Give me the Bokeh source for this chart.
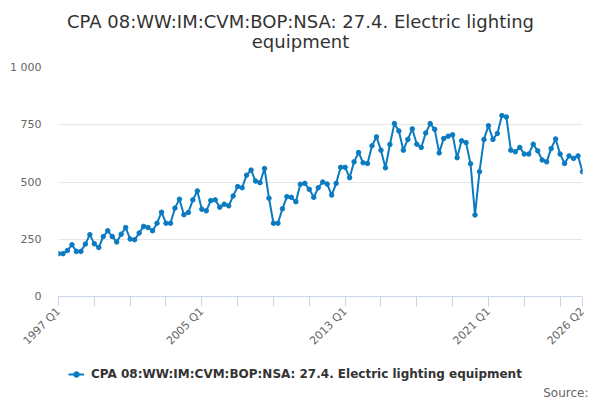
import math
from bokeh.plotting import figure
from bokeh.layouts import column
from bokeh.models import (Range1d, FixedTicker, Legend, LegendItem, ColumnDataSource, Label)
from bokeh.embed import file_html
from bokeh.resources import INLINE

title_lines = ["CPA 08:WW:IM:CVM:BOP:NSA: 27.4. Electric lighting", "equipment"]
series_name = "CPA 08:WW:IM:CVM:BOP:NSA: 27.4. Electric lighting equipment"
source_text = "Source:"

first_year = 1997
values = [
    187, 187, 201, 226,
    197, 197, 229, 270,
    230, 214, 262, 287,
    262, 238, 272, 301,
    251, 248, 277, 306,
    301, 287, 320, 368,
    320, 320, 386, 425,
    357, 367, 422, 461,
    381, 374, 419, 422,
    390, 403, 396, 439,
    480, 475, 530, 552,
    504, 497, 559, 429,
    320, 320, 383, 436,
    433, 414, 490, 494,
    468, 433, 475, 500,
    491, 443, 494, 564,
    564, 519, 588, 629,
    584, 581, 658, 697,
    639, 562, 664, 755,
    723, 639, 686, 732,
    665, 651, 714, 755,
    730, 627, 690, 700,
    706, 606, 680, 672,
    580, 356, 545, 686,
    746, 686, 712, 790,
    784, 639, 632, 651,
    622, 622, 665, 636,
    596, 588, 646, 688,
    622, 581, 614, 603,
    614, 545,
]
quarters = [f"{first_year + i // 4} Q{i % 4 + 1}" for i in range(len(values))]

y_ticks = [0, 250, 500, 750, 1000]
y_tick_labels = ["0", "250", "500", "750", "1 000"]
x_tick_every = 8
x_labelled = ["1997 Q1", "2005 Q1", "2013 Q1", "2021 Q1", "2026 Q2"]

FONT = "DejaVu Sans"
BLUE = "#0b7bc1"
W = 600


def blank(height):
    f = figure(width=W, height=height, output_backend="svg", toolbar_location=None,
               x_axis_type=None, y_axis_type=None,
               x_range=Range1d(0, W), y_range=Range1d(0, height),
               min_border=0, min_border_left=0, min_border_right=0,
               min_border_top=0, min_border_bottom=0, frame_align=False)
    f.outline_line_color = None
    f.background_fill_color = "white"
    f.border_fill_color = "white"
    return f


# ---- title strip (canvas y 0..60)
pt = blank(60)
for text, yb in zip(title_lines, [39.5, 19]):
    pt.add_layout(Label(x=300, y=yb, x_units="screen", y_units="screen", text=text,
                        text_align="center", text_baseline="alphabetic",
                        text_font=FONT, text_font_size="18px", text_color="#333333"))

# ---- main chart (canvas y 60..355)
idx = list(range(len(values)))
src = ColumnDataSource(dict(x=idx, y=values, q=quarters))

p = figure(width=W, height=295, output_backend="svg", toolbar_location=None,
           x_range=Range1d(0, len(values) - 1), y_range=Range1d(0, 1000),
           min_border_left=58, min_border_right=18, min_border_top=7, min_border_bottom=58,
           frame_align=False)
p.outline_line_color = None
p.background_fill_color = "white"
p.border_fill_color = "white"

line_r = p.line("x", "y", source=src, line_color=BLUE, line_width=2)
pt_r = p.scatter("x", "y", source=src, size=4.5, fill_color=BLUE, line_color=BLUE)

p.yaxis.ticker = FixedTicker(ticks=y_ticks)
p.yaxis.major_label_overrides = {t: l for t, l in zip(y_ticks, y_tick_labels)}
p.yaxis.axis_line_color = None
p.yaxis.major_tick_line_color = None
p.yaxis.minor_tick_line_color = None
p.yaxis.major_tick_out = 0
p.yaxis.major_tick_in = 0
p.yaxis.major_label_standoff = 17
p.yaxis.major_label_text_font = FONT
p.yaxis.major_label_text_font_size = "11px"
p.yaxis.major_label_text_color = "#666666"
p.ygrid.ticker = FixedTicker(ticks=y_ticks)
p.ygrid.grid_line_color = "#e6e6e6"
p.xgrid.grid_line_color = None

xt = list(range(0, len(values), x_tick_every)) + [len(values) - 1]
p.xaxis.ticker = FixedTicker(ticks=xt)
p.xaxis.major_label_overrides = {t: (quarters[t] if quarters[t] in x_labelled else "") for t in xt}
p.xaxis.axis_line_color = "#ccd6eb"
p.xaxis.major_tick_line_color = "#ccd6eb"
p.xaxis.minor_tick_line_color = None
p.xaxis.major_tick_out = 10
p.xaxis.major_tick_in = 0
p.xaxis.major_label_orientation = math.pi / 4
p.xaxis.major_label_standoff = 3
p.xaxis.major_label_text_font = FONT
p.xaxis.major_label_text_font_size = "11px"
p.xaxis.major_label_text_color = "#666666"

# ---- legend + source strip (canvas y 355..400)
pb = blank(45)
# same series, drawn in this strip only as the legend key (data lies outside this strip's view)
leg_line = pb.line("x", "y", source=src, line_color=BLUE, line_width=2)
leg_pt = pb.scatter("x", "y", source=src, size=4.5, fill_color=BLUE, line_color=BLUE)
legend = Legend(items=[LegendItem(label=series_name, renderers=[leg_line, leg_pt])],
                location=(68, 19), orientation="horizontal",
                padding=0, margin=0, border_line_color=None, background_fill_alpha=0,
                glyph_width=16, glyph_height=14, label_height=14, label_standoff=7,
                label_text_font=FONT, label_text_font_size="12px",
                label_text_font_style="bold", label_text_color="#333333")
pb.add_layout(legend, "center")
pb.add_layout(Label(x=588, y=8, x_units="screen", y_units="screen", text=source_text,
                    text_align="right", text_baseline="alphabetic",
                    text_font=FONT, text_font_size="12px", text_color="#666666"))

layout = column(pt, p, pb, spacing=0)
open("out.html", "w").write(file_html(layout, INLINE))
